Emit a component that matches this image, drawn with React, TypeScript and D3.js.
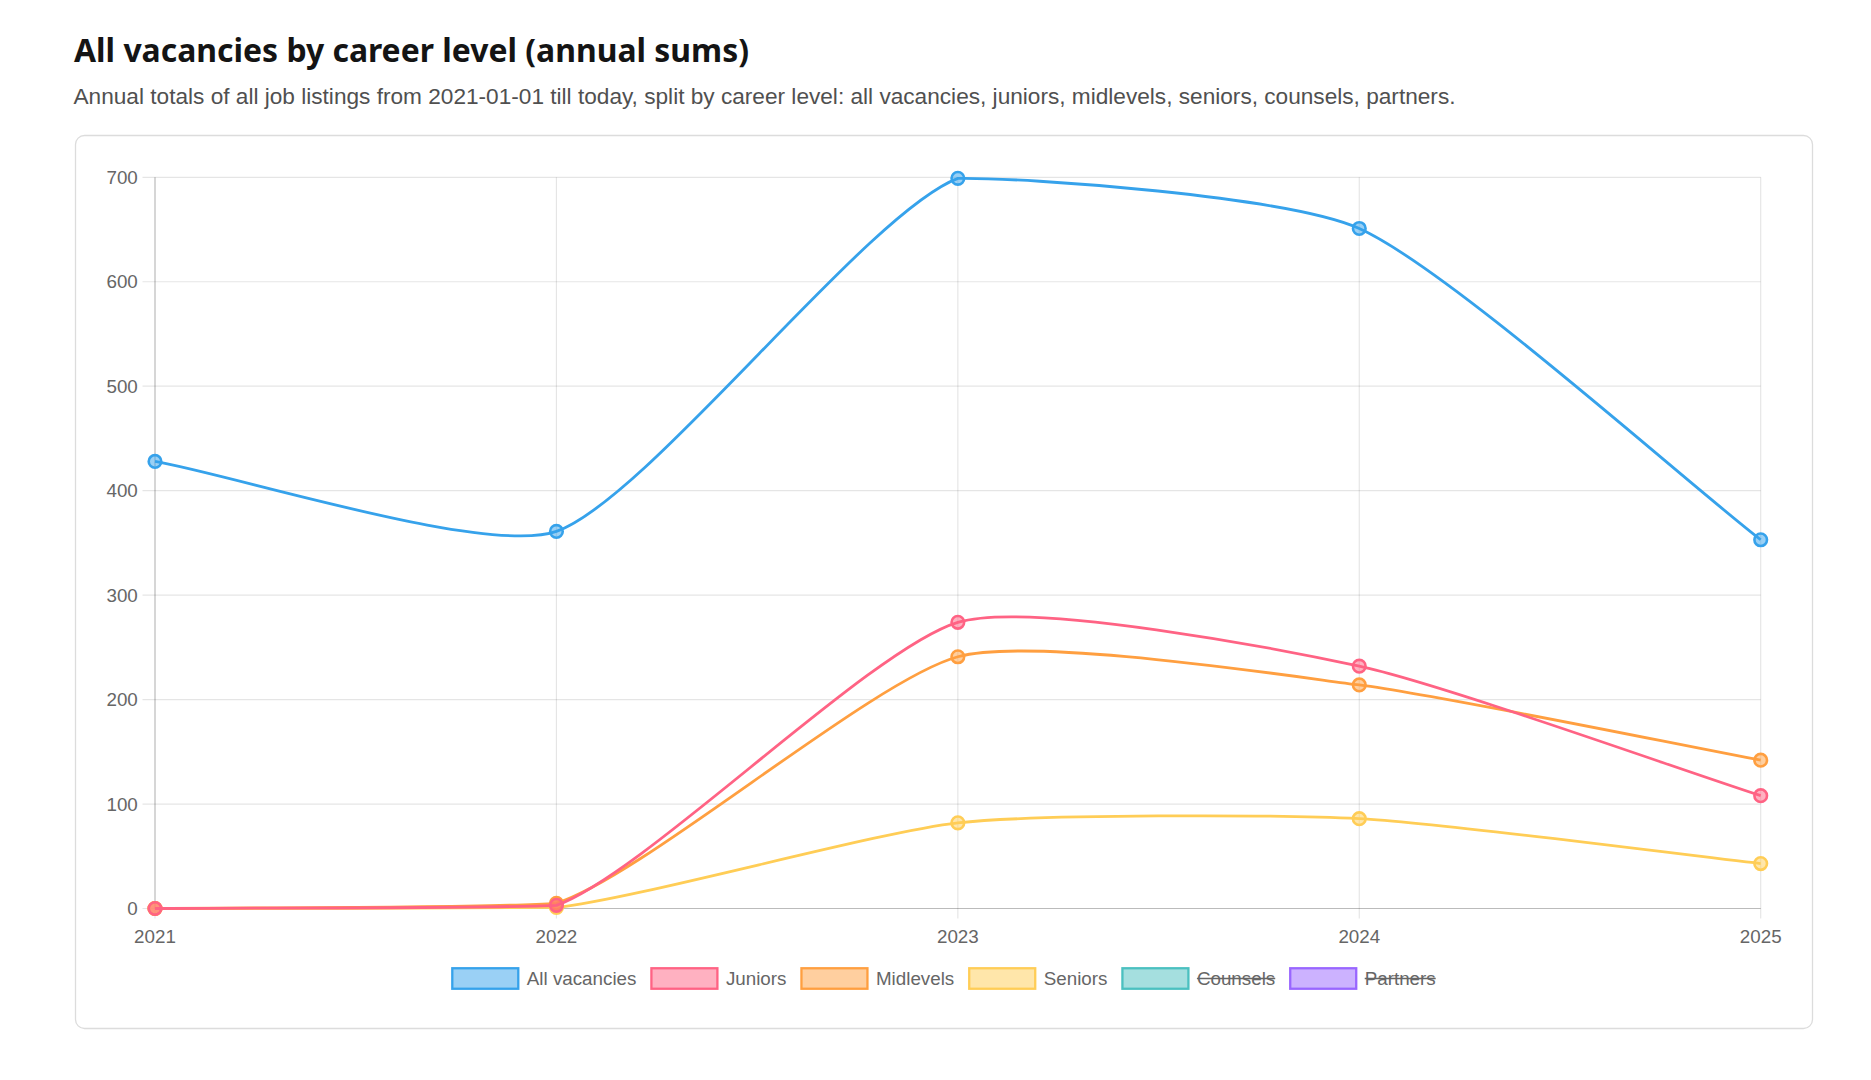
import React, { useEffect, useRef } from 'react';
import * as d3 from 'd3';

// annual sums per career level
const years = ['2021', '2022', '2023', '2024', '2025'];
const allVacancies = [428, 361, 699, 651, 353];
const juniors = [0, 3, 274, 232, 108];
const midlevels = [0, 5, 241, 214, 142];
const seniors = [0, 1, 82, 86, 43];
const yTicks = [0, 100, 200, 300, 400, 500, 600, 700];

const series = [
    { label: 'All vacancies', values: allVacancies, color: [54, 162, 235], hidden: false },
    { label: 'Juniors', values: juniors, color: [255, 99, 132], hidden: false },
    { label: 'Midlevels', values: midlevels, color: [255, 159, 64], hidden: false },
    { label: 'Seniors', values: seniors, color: [255, 205, 86], hidden: false },
    { label: 'Counsels', values: [] as number[], color: [75, 192, 192], hidden: true },
    { label: 'Partners', values: [] as number[], color: [153, 102, 255], hidden: true },
];

const rgb = (c: number[], a = 1) => `rgba(${c[0]}, ${c[1]}, ${c[2]}, ${a})`;

const TITLE = 'All vacancies by career level (annual sums)';
const SUBTITLE = 'Annual totals of all job listings from 2021-01-01 till today, split by career level: all vacancies, juniors, midlevels, seniors, counsels, partners.';

const FONT = '"Liberation Sans", Arial, Helvetica, sans-serif';
const LABEL_SIZE = 18.8;

// bezier spline through the points, control points weighted by segment length
const splinePath = (pts: [number, number][], tension: number, area: { l: number; r: number; t: number; b: number }) => {
    const clampX = (v: number) => Math.max(area.l, Math.min(area.r, v));
    const clampY = (v: number) => Math.max(area.t, Math.min(area.b, v));
    const cps = pts.map((cur, i) => {
        const prev = pts[i - 1] || cur;
        const next = pts[i + 1] || cur;
        const d01 = Math.hypot(cur[0] - prev[0], cur[1] - prev[1]);
        const d12 = Math.hypot(next[0] - cur[0], next[1] - cur[1]);
        let s01 = d01 / (d01 + d12);
        let s12 = d12 / (d01 + d12);
        if (isNaN(s01)) s01 = 0;
        if (isNaN(s12)) s12 = 0;
        const fa = tension * s01;
        const fb = tension * s12;
        return {
            inX: clampX(cur[0] - fa * (next[0] - prev[0])),
            inY: clampY(cur[1] - fa * (next[1] - prev[1])),
            outX: clampX(cur[0] + fb * (next[0] - prev[0])),
            outY: clampY(cur[1] + fb * (next[1] - prev[1])),
        };
    });
    const p = d3.path();
    p.moveTo(pts[0][0], pts[0][1]);
    for (let i = 1; i < pts.length; i++) {
        p.bezierCurveTo(cps[i - 1].outX, cps[i - 1].outY, cps[i].inX, cps[i].inY, pts[i][0], pts[i][1]);
    }
    return p.toString();
};

const App = () => {
    const ref = useRef<SVGSVGElement>(null);

    useEffect(() => {
        const svg = d3.select(ref.current);
        svg.selectAll('*').remove();

        const area = { l: 155, r: 1760.7, t: 177.3, b: 908.5 };

        // heading
        svg.append('text')
            .attr('x', 74)
            .attr('y', 61.5)
            .attr('font-family', '"Noto Sans", "Open Sans", sans-serif')
            .attr('font-weight', 700)
            .attr('font-size', 32)
            .attr('fill', '#141414')
            .attr('textLength', 675)
            .attr('lengthAdjust', 'spacingAndGlyphs')
            .text(TITLE);

        svg.append('text')
            .attr('x', 73.5)
            .attr('y', 104)
            .attr('font-family', FONT)
            .attr('font-size', 21.5)
            .attr('fill', '#505050')
            .attr('textLength', 1382)
            .attr('lengthAdjust', 'spacingAndGlyphs')
            .text(SUBTITLE);

        // card
        svg.append('rect')
            .attr('x', 75.5)
            .attr('y', 135.5)
            .attr('width', 1737)
            .attr('height', 893)
            .attr('rx', 9)
            .attr('fill', '#fff')
            .attr('stroke', '#dcdcdc')
            .attr('stroke-width', 1.3);

        const x = d3.scalePoint<string>().domain(years).range([area.l, area.r]);
        const y = d3.scaleLinear().domain([0, 700]).range([area.b, area.t]);

        const grid = svg.append('g');
        // horizontal grid + y labels
        yTicks.forEach(t => {
            grid.append('line')
                .attr('x1', area.l - 12.5).attr('x2', area.r)
                .attr('y1', y(t)).attr('y2', y(t))
                .attr('stroke', 'rgba(0,0,0,0.1)').attr('stroke-width', 1.2);
            grid.append('text')
                .attr('x', 137.8)
                .attr('y', y(t))
                .attr('dy', '0.35em')
                .attr('text-anchor', 'end')
                .attr('font-family', FONT)
                .attr('font-size', LABEL_SIZE)
                .attr('fill', '#666')
                .text(t);
        });
        // vertical grid + x labels
        years.forEach(yr => {
            grid.append('line')
                .attr('x1', x(yr)).attr('x2', x(yr))
                .attr('y1', area.t).attr('y2', area.b + 10)
                .attr('stroke', 'rgba(0,0,0,0.1)').attr('stroke-width', 1.2);
            grid.append('text')
                .attr('x', x(yr))
                .attr('y', 936)
                .attr('dy', '0.35em')
                .attr('text-anchor', 'middle')
                .attr('font-family', FONT)
                .attr('font-size', LABEL_SIZE)
                .attr('fill', '#666')
                .text(yr);
        });
        // axis borders
        grid.append('line')
            .attr('x1', area.l).attr('x2', area.l).attr('y1', area.t).attr('y2', area.b)
            .attr('stroke', 'rgba(0,0,0,0.18)').attr('stroke-width', 1.2);
        grid.append('line')
            .attr('x1', area.l).attr('x2', area.r).attr('y1', area.b).attr('y2', area.b)
            .attr('stroke', 'rgba(0,0,0,0.18)').attr('stroke-width', 1.2);

        // datasets, last one drawn first
        const plot = svg.append('g');
        series.slice().reverse().filter(s => !s.hidden).forEach(s => {
            const pts = s.values.map((v, i) => [x(years[i]) as number, y(v)] as [number, number]);
            plot.append('path')
                .attr('d', splinePath(pts, 0.2, area))
                .attr('fill', 'none')
                .attr('stroke', rgb(s.color))
                .attr('stroke-width', 2.8);
            plot.selectAll(null)
                .data(pts)
                .enter()
                .append('circle')
                .attr('cx', d => d[0])
                .attr('cy', d => d[1])
                .attr('r', 6.3)
                .attr('fill', rgb(s.color, 0.5))
                .attr('stroke', rgb(s.color))
                .attr('stroke-width', 2.6);
        });

        // legend
        const boxW = 66;
        const boxH = 20.5;
        const legendY = 978.5;
        const legend = svg.append('g');
        const items = series.map(s => {
            const g = legend.append('g');
            g.append('rect')
                .attr('width', boxW)
                .attr('height', boxH)
                .attr('y', legendY - boxH / 2)
                .attr('fill', rgb(s.color, 0.5))
                .attr('stroke', rgb(s.color))
                .attr('stroke-width', 2.3);
            const txt = g.append('text')
                .attr('x', boxW + 8.5)
                .attr('y', legendY)
                .attr('dy', '0.35em')
                .attr('font-family', FONT)
                .attr('font-size', LABEL_SIZE)
                .attr('fill', '#666')
                .text(s.label);
            const tw = (txt.node() as SVGTextElement).getComputedTextLength();
            if (s.hidden) {
                g.append('line')
                    .attr('x1', boxW + 8.5).attr('x2', boxW + 8.5 + tw)
                    .attr('y1', legendY).attr('y2', legendY)
                    .attr('stroke', '#666').attr('stroke-width', 1.6);
            }
            return { g, w: boxW + 8.5 + tw };
        });
        const gap = 15;
        const total = d3.sum(items, d => d.w) + gap * (items.length - 1);
        let cx = 944 - total / 2;
        items.forEach(it => {
            it.g.attr('transform', `translate(${cx}, 0)`);
            cx += it.w + gap;
        });
    }, []);

    return (
        <svg
            ref={ref}
            width={1871}
            height={1080}
            style={{ position: 'absolute', left: 0, top: 0, background: '#fff' }}
        />
    );
};

export default App;
